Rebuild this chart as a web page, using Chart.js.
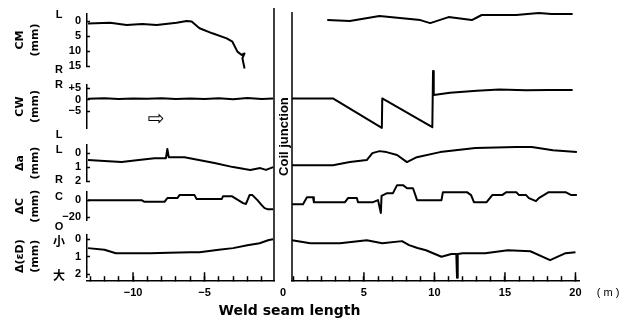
<!DOCTYPE html>
<html>
<head>
<meta charset="utf-8">
<script src="https://cdn.jsdelivr.net/npm/chart.js@4/dist/chart.umd.min.js"></script>
<style>
  body { margin: 0; background: #fff; }
  canvas { display: block; }
</style>
</head>
<body>
<canvas id="chart" width="632" height="325"></canvas>
<script>
// weld seam length (m): left of the coil junction counts back from 0, right counts forward
const cmLeftX = [-13.15, -11.6, -10.45, -9.35, -8.35, -6.95, -6.25, -5.9, -5.35, -4.45, -3.45, -3.05, -2.7, -2.4, -2.2, -2.35, -2.2];
const cmLeftY = [0.8, 0.6, 1.3, 1.0, 1.3, 0.6, 0, 0.2, 2.4, 4.1, 5.8, 6.9, 10.2, 11.3, 10.8, 12.4, 15.8];
const cmRightX = [2.4, 4.0, 6.1, 9.0, 9.7, 11.0, 12.65, 13.35, 15.8, 17.4, 18.3, 19.8];
const cmRightY = [-0.3, 0, -1.7, -0.3, 0.7, -1.3, -0.3, -2.0, -2.0, -2.7, -2.3, -2.3];

const cwLeftX = [-13.15, -12, -11, -10, -9, -8, -7, -6, -5, -4, -3, -2, -1, -0.2];
const cwLeftY = [0.3, 0.6, 0.2, 0.5, 0.3, 0.6, 0.2, 0.5, 0.2, 0.6, 0.1, 0.7, 0.2, 0.5];
const cwRightX = [-0.1, 2.8, 6.27, 6.3, 9.85, 9.9, 9.95, 11.1, 13.0, 14.6, 16.5, 18.1, 19.8];
const cwRightY = [0.5, 0.5, -12.3, 0.5, -12.0, 12.4, 2.0, 3.0, 3.8, 4.4, 4.0, 4.1, 4.1];

const daLeftX = [-13.15, -12.0, -10.8, -9.6, -8.5, -7.7, -7.6, -7.5, -6.4, -5.4, -4.3, -3.0, -2.2, -1.8, -1.1, -0.7, -0.2];
const daLeftY = [0.5, 0.57, 0.64, 0.5, 0.36, 0.36, -0.3, 0.3, 0.3, 0.5, 0.7, 1.0, 1.14, 1.2, 1.07, 1.2, 1.0];
const daRightX = [-0.1, 0.5, 2.8, 4.0, 5.2, 5.6, 6.1, 6.6, 7.35, 8.05, 8.75, 10.4, 12.9, 15.8, 16.9, 18.4, 20.1];
const daRightY = [0.86, 0.86, 0.86, 0.64, 0.5, 0, -0.14, -0.07, 0.14, 0.64, 0.29, -0.07, -0.36, -0.43, -0.43, -0.21, -0.07];

const dcLeftX = [-13.15, -9.4, -9.2, -7.8, -7.6, -6.9, -6.75, -5.7, -5.55, -3.8, -3.7, -3.1, -2.3, -2.1, -1.85, -1.65, -1.3, -1.0, -0.8, -0.6, -0.2];
const dcLeftY = [0, 0, -2, -2, 2.4, 2.4, 5.9, 5.9, 1.2, 1.2, 4.7, 4.7, -3.5, -4.5, 5.9, 5.9, 0, -5.9, -9.4, -10.6, -10.6];
const dcRightX = [-0.1, 0.68, 0.96, 1.39, 1.45, 3.66, 3.87, 4.5, 4.58, 5.65, 6.0, 6.2, 6.25, 6.64, 7.06, 7.35, 7.77, 8.06, 8.48, 8.77, 10.5, 10.6, 12.3, 12.6, 12.8, 13.7, 14.1, 14.8, 15.1, 15.8, 16.0, 16.5, 16.7, 17.2, 17.4, 18.1, 19.3, 19.7, 20.1];
const dcRightY = [-4.7, -4.7, 3.5, 3.5, -2.4, -2.4, 2.4, 2.4, -2.4, -2.4, 0, -15, 5, 8.2, 8.2, 17.6, 17.6, 14, 14, 0, 0, 9.4, 9.4, 5.9, -2.4, -2.4, 5.9, 5.9, 9.4, 9.4, 5.9, 5.9, 2.4, -1.2, 2.4, 9.4, 9.4, 5.9, 5.9];

const deLeftX = [-13.15, -12, -11.2, -10, -8.8, -7.5, -6, -5.35, -4, -3, -2, -1.15, -0.5, -0.2];
const deLeftY = [0.51, 0.6, 0.8, 0.8, 0.8, 0.77, 0.74, 0.74, 0.6, 0.51, 0.35, 0.23, 0.05, 0];
const deRightX = [-0.1, 1.2, 3.3, 5.2, 6.3, 7.7, 8.2, 8.8, 9.4, 10.5, 11.2, 11.55, 11.6, 11.65, 12.0, 13.6, 15.2, 16.8, 18.2, 19.3, 20.0];
const deRightY = [0.06, 0.23, 0.23, 0.06, 0.23, 0.11, 0.34, 0.5, 0.63, 1.0, 0.85, 0.85, 2.2, 0.85, 0.8, 0.8, 0.63, 0.69, 1.2, 0.8, 0.74];

// tick labels
const cmTicks = [0, 5, 10, 15];
const cwTicks = [5, 0, -5];
const daTicks = [0, 1, 2];
const dcTicks = [0, -20];
const deTicks = [0, 1, 2];
const xLeftTicks = [-10, -5];
const xRightTicks = [5, 10, 15, 20];

const panelTitles = {
  yCM: ['CM', '(mm)'],
  yCW: ['CW', '(mm)'],
  yDA: ['Δa', '(mm)'],
  yDC: ['ΔC', '(mm)'],
  yDE: ['Δ(εD)', '(mm)']
};
// side letters next to the tick labels: [axis, text, value]
const sideLabels = [
  ['yCM', 'L', -2], ['yCM', 'R', 16.3],
  ['yCW', 'R', 6.3], ['yCW', 'L', -15.4],
  ['yDA', 'L', -0.2], ['yDA', 'R', 1.93],
  ['yDC', 'C', 3.5], ['yDC', 'O', -31.8],
  ['yDE', '小', 0.11], ['yDE', '大', 2.06]
];

const tickFont = { family: 'Liberation Sans', size: 11, weight: 'bold' };
const sign = v => v < 0 ? '\u2212' + Math.abs(v) : String(v);

function pts(xs, ys) {
  return xs.map((x, i) => ({ x: x, y: ys[i] }));
}

function trace(xs, ys, xAxisID, yAxisID) {
  return {
    data: pts(xs, ys),
    xAxisID: xAxisID,
    yAxisID: yAxisID,
    borderColor: '#000',
    borderWidth: 2,
    borderJoinStyle: 'round',
    pointRadius: 0,
    tension: 0,
    fill: false,
    clip: false
  };
}

// tick label overhang must not push the plot area around
function noOverhang(s) {
  s.paddingTop = 0;
  s.paddingBottom = 0;
  s.paddingLeft = 0;
  s.paddingRight = 0;
}

function panelAxis(id, min, max, reverse, ticks, fmt) {
  return {
    type: 'linear',
    position: 'left',
    stack: 'panels',
    min: min,
    max: max,
    reverse: reverse,
    afterBuildTicks: s => { s.ticks = ticks.map(v => ({ value: v })); },
    afterFit: s => { s.width = 87; noOverhang(s); },
    grid: { display: true, drawOnChartArea: false, drawTicks: true, tickLength: -3, tickColor: '#000', tickWidth: 1.5 },
    border: { display: true, color: '#000', width: 1.5 },
    ticks: { font: tickFont, color: '#000', padding: 9, autoSkip: false, callback: fmt || (v => String(v)) },
    title: {
      display: true,
      text: panelTitles[id],
      color: '#000',
      font: { family: 'DejaVu Sans', size: 11, weight: 'bold', lineHeight: 1.36 },
      padding: { top: 12.5, bottom: 0 }
    }
  };
}

const scales = {};
// order from top to bottom, with blank strips between the panels
const stackOrder = [
  ['gTop', 6], ['yCM', 52], ['g1', 19], ['yCW', 43], ['g2', 17], ['yDA', 36],
  ['g3', 11], ['yDC', 28], ['g4', 15], ['yDE', 42], ['gBot', 4]
];
const panelDefs = {
  yCM: panelAxis('yCM', -2.33, 15, true, cmTicks),
  yCW: panelAxis('yCW', -12.4, 6.3, false, cwTicks, v => v > 0 ? '+' + v : sign(v)),
  yDA: panelAxis('yDA', -0.57, 2, true, daTicks),
  yDC: panelAxis('yDC', -23.5, 9.4, false, dcTicks, sign),
  yDE: panelAxis('yDE', -0.23, 2.17, true, deTicks)
};
stackOrder.forEach(([id, h], i) => {
  const def = panelDefs[id] || { type: 'linear', position: 'left', stack: 'panels', display: false };
  def.stackWeight = h;
  def.weight = stackOrder.length - i;
  scales[id] = def;
});

// length axis: a tick every metre pointing up, labels only where the figure has them
function distAxis(min, max, w, weight, labels) {
  return {
    type: 'linear',
    position: 'bottom',
    stack: 'dist',
    stackWeight: w,
    weight: weight,
    min: min,
    max: max,
    afterFit: s => { s.height = 22; noOverhang(s); },
    grid: { display: true, drawOnChartArea: false, drawTicks: true, tickLength: -5, tickColor: '#000', tickWidth: 1.5 },
    border: { display: true, color: '#000', width: 1.5 },
    ticks: {
      stepSize: 1,
      includeBounds: false,
      font: tickFont,
      color: '#000',
      padding: 10,
      maxRotation: 0,
      autoSkip: false,
      callback: v => labels.includes(v) ? sign(v) : ''
    }
  };
}
scales.xL = distAxis(-13.22, -0.14, 187, 1, xLeftTicks);
scales.xR = distAxis(-0.1, 20.25, 287, 3, xRightTicks);
scales.xG = {
  type: 'linear',
  position: 'bottom',
  stack: 'dist',
  stackWeight: 18,
  weight: 2,
  min: -1,
  max: 1,
  afterBuildTicks: s => { s.ticks = [{ value: 0 }]; },
  afterFit: s => { s.height = 22; noOverhang(s); },
  grid: { display: false, drawTicks: false },
  border: { display: false },
  ticks: { font: tickFont, color: '#000', padding: 5, maxRotation: 0, autoSkip: false, callback: () => '0' }
};

const decor = {
  id: 'decor',
  afterDraw(chart) {
    const { ctx, chartArea } = chart;
    const s = chart.scales;
    ctx.save();
    ctx.globalAlpha = 1;
    ctx.globalCompositeOperation = 'source-over';
    ctx.setLineDash([]);
    ctx.strokeStyle = '#000';
    ctx.fillStyle = '#000';
    ctx.lineWidth = 1.5;

    // longer ticks every 5 m
    const yb = s.xL.top;
    ctx.beginPath();
    [s.xL, s.xR].forEach(sc => {
      sc.ticks.forEach(t => {
        if (t.value !== 0 && t.value % 5 === 0) {
          const px = sc.getPixelForValue(t.value);
          ctx.moveTo(px, yb);
          ctx.lineTo(px, yb - 9);
        }
      });
    });
    ctx.stroke();

    // coil junction lines
    ctx.beginPath();
    ctx.moveTo(s.xL.right, chartArea.top);
    ctx.lineTo(s.xL.right, yb);
    ctx.moveTo(s.xR.left, chartArea.top + 4);
    ctx.lineTo(s.xR.left, yb);
    ctx.stroke();

    ctx.save();
    ctx.translate((s.xL.right + s.xR.left) / 2, (s.yCW.bottom + s.yDA.top) / 2);
    ctx.rotate(-Math.PI / 2);
    ctx.font = 'bold 13px "Liberation Sans"';
    ctx.textAlign = 'center';
    ctx.textBaseline = 'middle';
    ctx.fillText('Coil junction', 0, 1);
    ctx.restore();

    // L / R / C / O / 小 / 大 letters
    ctx.textAlign = 'center';
    ctx.textBaseline = 'middle';
    sideLabels.forEach(([id, txt, v]) => {
      const sc = s[id];
      ctx.font = /[小大]/.test(txt) ? 'bold 12px "Noto Sans CJK SC"' : 'bold 11px "Liberation Sans"';
      ctx.fillText(txt, sc.left + 59, sc.getPixelForValue(v));
    });

    // direction arrow in the CW panel
    ctx.font = '20px "DejaVu Sans"';
    ctx.fillText('\u21E8', s.xL.getPixelForValue(-8.4), s.yCW.getPixelForValue(-8.9));

    // unit of the length axis
    ctx.font = '11px "Liberation Sans"';
    ctx.fillText('( m )', s.xR.right + 29, yb + 11.6);
    ctx.restore();
  }
};

new Chart(document.getElementById('chart'), {
  type: 'line',
  data: {
    datasets: [
      trace(cmLeftX, cmLeftY, 'xL', 'yCM'),
      trace(cmRightX, cmRightY, 'xR', 'yCM'),
      trace(cwLeftX, cwLeftY, 'xL', 'yCW'),
      trace(cwRightX, cwRightY, 'xR', 'yCW'),
      trace(daLeftX, daLeftY, 'xL', 'yDA'),
      trace(daRightX, daRightY, 'xR', 'yDA'),
      trace(dcLeftX, dcLeftY, 'xL', 'yDC'),
      trace(dcRightX, dcRightY, 'xR', 'yDC'),
      trace(deLeftX, deLeftY, 'xL', 'yDE'),
      trace(deRightX, deRightY, 'xR', 'yDE')
    ]
  },
  options: {
    responsive: false,
    animation: false,
    devicePixelRatio: 1,
    layout: { padding: { top: 8, right: 53, bottom: 0, left: 0 } },
    plugins: {
      legend: { display: false },
      tooltip: { enabled: false },
      title: {
        display: true,
        position: 'bottom',
        text: 'Weld seam length',
        color: '#000',
        font: { family: 'DejaVu Sans', size: 14, weight: 'bold' },
        padding: { top: 0, bottom: 5 }
      }
    },
    scales: scales
  },
  plugins: [decor]
});
</script>
</body>
</html>
